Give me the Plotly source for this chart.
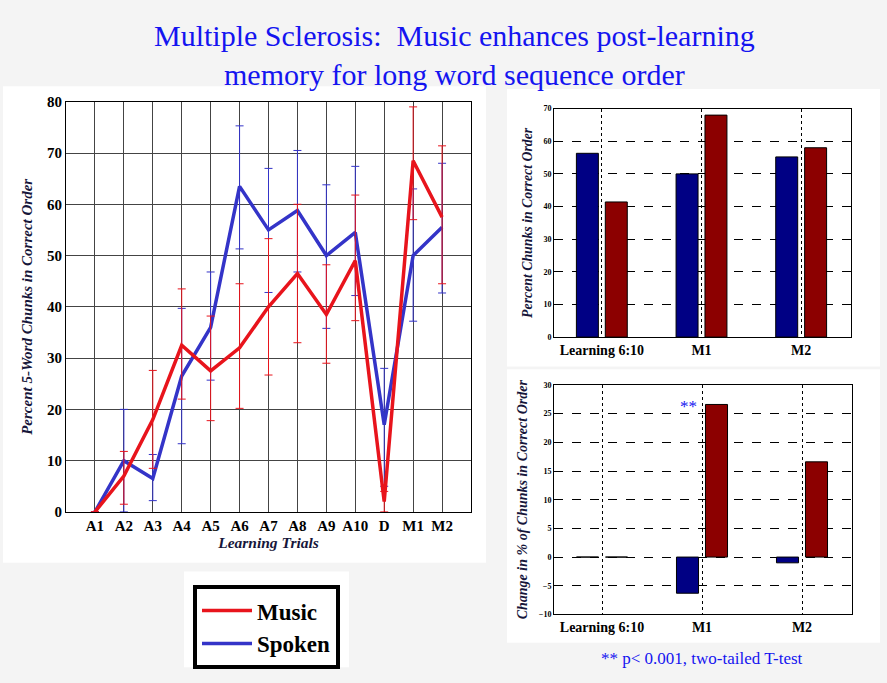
import numpy as np
import plotly.graph_objects as go

# left chart: learning trials
trials = ["A1", "A2", "A3", "A4", "A5", "A6", "A7", "A8", "A9", "A10", "D", "M1", "M2"]
music_mean = [0, 7, 18, 32.5, 27.5, 32, 40, 46.5, 38.5, 49, 2, 68.5, 57.5]
music_hi = [0, 11.8, 27.6, 43.5, 38.2, 44.5, 53.3, 60, 48.2, 61.8, 4, 79, 71.4]
music_lo = [0, 1.5, 8.5, 22, 17.8, 20.2, 26.7, 33, 29, 37.3, 0, 57, 44.5]
spoken_mean = [0, 10, 6.5, 26.5, 36, 63.5, 55, 58.8, 50, 54.5, 17, 50, 55.5]
spoken_hi = [0, 20, 11.2, 39.7, 46.8, 75.3, 67, 70.5, 63.8, 67.4, 28, 63, 68]
spoken_lo = [0, 0, 2.2, 13.3, 25.7, 51.3, 42.8, 46.8, 35.8, 42.2, 5, 37.2, 42.7]

# right charts
groups = ["Learning 6:10", "M1", "M2"]
spoken_pct = [56.3, 50, 55.2]
music_pct = [41.4, 68, 58]
spoken_change = [0, -6.3, -1.0]
music_change = [0, 26.6, 16.6]

W, H = 887, 683
SERIF = "Liberation Serif"
RED, BLUE = "#e8141c", "#3434c8"
NAVY, MAROON = "#000084", "#8c0000"
AXTITLE = "#16163a"


def px(x0, x1):
    return [x0 / W, x1 / W]


def py(y0, y1):
    return [1 - y1 / H, 1 - y0 / H]


def err(mean, hi, lo):
    m = np.array(mean, float)
    return dict(type="data", symmetric=False, array=np.array(hi) - m,
                arrayminus=m - np.array(lo))


fig = go.Figure()

fig.add_trace(go.Scatter(
    x=trials, y=spoken_mean, name="Spoken", mode="lines",
    line=dict(color=BLUE, width=3.5), legendrank=2, legendgroup="s",
    error_y=dict(**err(spoken_mean, spoken_hi, spoken_lo), color=BLUE, thickness=1, width=4),
))
fig.add_trace(go.Scatter(
    x=trials, y=music_mean, name="Music", mode="lines",
    line=dict(color=RED, width=3.5), legendrank=1, legendgroup="m",
    error_y=dict(**err(music_mean, music_hi, music_lo), color=RED, thickness=1, width=4),
))

bar_line = dict(color="black", width=1)
fig.add_trace(go.Bar(x=groups, y=spoken_pct, marker=dict(color=NAVY, line=bar_line),
                     xaxis="x2", yaxis="y2", showlegend=False))
fig.add_trace(go.Bar(x=groups, y=music_pct, marker=dict(color=MAROON, line=bar_line),
                     xaxis="x2", yaxis="y2", showlegend=False))
fig.add_trace(go.Bar(x=groups, y=spoken_change, marker=dict(color=NAVY, line=bar_line),
                     xaxis="x3", yaxis="y3", showlegend=False))
fig.add_trace(go.Bar(x=groups, y=music_change, marker=dict(color=MAROON, line=bar_line),
                     xaxis="x3", yaxis="y3", showlegend=False))

frame = dict(showline=True, mirror=True, linecolor="black", linewidth=1, zeroline=False)
bold = dict(family=SERIF, color="black", weight="bold")
axtitle = dict(family=SERIF, color=AXTITLE, weight="bold", style="italic")

fig.update_layout(
    width=W, height=H,
    margin=dict(l=0, r=0, t=0, b=0),
    paper_bgcolor="#f4f4f4",
    plot_bgcolor="white",
    barmode="group", bargap=0.42, bargroupgap=0.24,
    xaxis=dict(domain=px(66, 471), range=[-1, 13], **frame,
               showgrid=True, gridcolor="#444444", gridwidth=1,
               tickfont=dict(size=15, **bold),
               title=dict(text="Learning Trials", font=dict(size=15.5, **axtitle), standoff=4)),
    yaxis=dict(domain=py(96, 516), range=[0, 80], dtick=10, **frame,
               showgrid=True, gridcolor="#444444", gridwidth=1,
               tickfont=dict(size=15, **bold),
               title=dict(text="Percent 5-Word Chunks in Correct Order",
                          font=dict(size=15, **axtitle), standoff=10)),
    xaxis2=dict(domain=px(554, 851), range=[-0.48, 2.5], anchor="y2", **frame,
                showgrid=True, gridcolor="black", griddash="dot", gridwidth=1,
                tickfont=dict(size=14, **bold)),
    yaxis2=dict(domain=py(103, 337), range=[0, 70], dtick=10, anchor="x2", **frame,
                showgrid=True, gridcolor="black", griddash="dash", gridwidth=1,
                tickfont=dict(size=8, **bold),
                title=dict(text="Percent Chunks in Correct Order",
                           font=dict(size=13.8, **axtitle), standoff=7)),
    xaxis3=dict(domain=px(554, 852), range=[-0.48, 2.5], anchor="y3", **frame,
                showgrid=True, gridcolor="black", griddash="dot", gridwidth=1,
                tickfont=dict(size=14, **bold)),
    yaxis3=dict(domain=py(386, 621), range=[-10, 30], dtick=5, anchor="x3", **frame,
                showgrid=True, gridcolor="black", griddash="dash", gridwidth=1,
                tickfont=dict(size=8, **bold),
                title=dict(text="Change in % of Chunks in Correct Order",
                           font=dict(size=14, **axtitle), standoff=7)),
    legend=dict(x=193 / W, y=1 - 591 / H, xanchor="left", yanchor="top",
                bgcolor="white", bordercolor="black", borderwidth=4,
                font=dict(size=23, **bold), tracegroupgap=0,
                traceorder="grouped", itemwidth=50),
    showlegend=True,
)

# white panels behind the charts and legend
for x0, y0, x1, y1 in [(3, 80, 486, 568), (507, 83, 880, 367),
                       (507, 370, 880, 650), (184, 577, 349, 675)]:
    fig.add_shape(type="rect", xref="paper", yref="paper", layer="below",
                  x0=x0 / W, x1=x1 / W, y0=1 - y1 / H, y1=1 - y0 / H,
                  fillcolor="white", line_width=0)

fig.add_annotation(
    xref="paper", yref="paper", x=455 / W, y=1 - 48 / H, showarrow=False,
    xanchor="center", yanchor="middle",
    text="Multiple Sclerosis:  Music enhances post-learning<br>memory for long word sequence order",
    font=dict(family=SERIF, size=30, color="#1414f0"), align="center",
)
fig.add_annotation(
    xref="paper", yref="paper", x=702 / W, y=1 - 666 / H, showarrow=False,
    xanchor="center", yanchor="middle",
    text="** p< 0.001, two-tailed T-test",
    font=dict(family=SERIF, size=17, color="#1414f0"),
)
fig.add_annotation(
    xref="x3", yref="y3", x="M1", y=26.3, xshift=-14, yanchor="middle", showarrow=False,
    text="**", font=dict(family=SERIF, size=17, color="#1414f0"),
)

fig.write_html("out.html", post_script="document.body.style.margin='0';",
               config={"displayModeBar": False})
